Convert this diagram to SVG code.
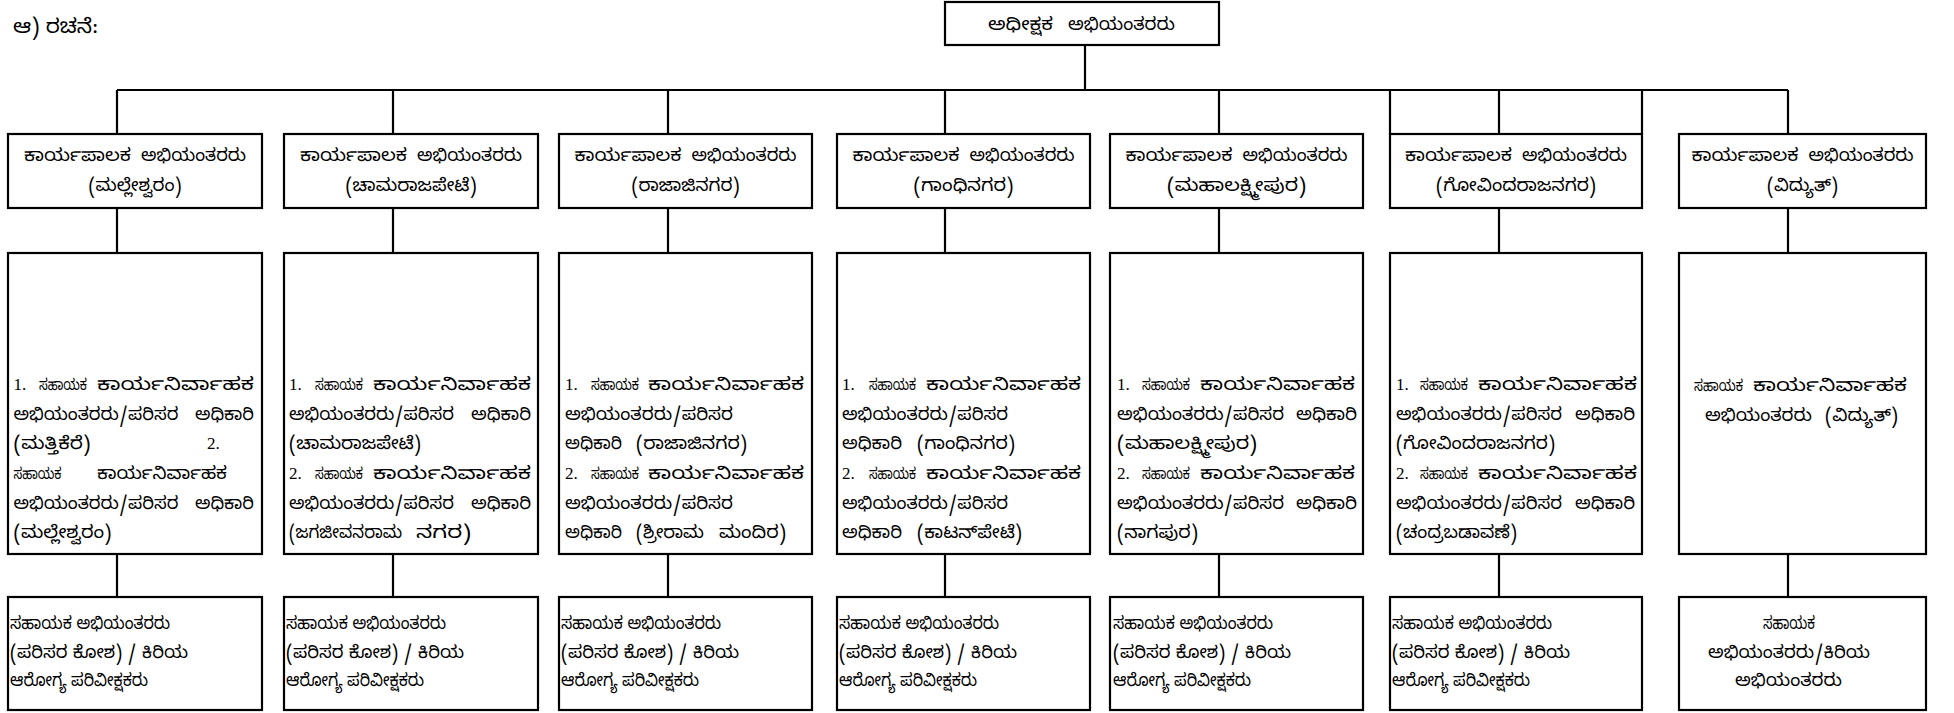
<svg xmlns="http://www.w3.org/2000/svg" width="1954" height="713" viewBox="0 0 1954 713">
<style>
.box{fill:#fff;stroke:#000;stroke-width:2.2}
.ln{stroke:#000;stroke-width:2.2;fill:none}
text{font-family:"Noto Sans Kannada","Noto Serif Kannada","Lohit Kannada","Noto Sans",sans-serif;font-size:17.5px;fill:#000}
text.n{font-family:"Liberation Serif","Times New Roman",serif;font-size:17px}
text.s{font-size:15.5px}
text.hd{font-size:20px}
</style>
<rect width="1954" height="713" fill="#fff"/>
<text class="hd" x="13" y="33" textLength="85" lengthAdjust="spacingAndGlyphs">ಆ) ರಚನೆ:</text>

<g id="connectors">
<path class="ln" d="M1085,45V90M117,90H1788M117,90V134M393,90V134M668,90V134M945,90V134M1219,90V134M1499,90V134M1788,90V134M1390,90V134M1642,90V134"/>
<path class="ln" d="M117,208V253M393,208V253M668,208V253M945,208V253M1219,208V253M1499,208V253M1788,208V253"/>
<path class="ln" d="M117,554V597M393,554V597M668,554V597M945,554V597M1219,554V597M1499,554V597M1788,554V597"/>
</g>

<g id="se">
<rect class="box" x="945" y="2" width="274" height="43"/>
<text x="988" y="30" textLength="65" lengthAdjust="spacingAndGlyphs">ಅಧೀಕ್ಷಕ</text>
<text x="1068" y="30" textLength="107" lengthAdjust="spacingAndGlyphs">ಅಭಿಯಂತರರು</text>
</g>

<g id="ee1"><rect class="box" x="8" y="134" width="254" height="74"/>
<text x="24" y="161" textLength="107" lengthAdjust="spacingAndGlyphs">ಕಾರ್ಯಪಾಲಕ</text><text x="141" y="161" textLength="105" lengthAdjust="spacingAndGlyphs">ಅಭಿಯಂತರರು</text>
<text x="88.5" y="191" textLength="93" lengthAdjust="spacingAndGlyphs">(ಮಲ್ಲೇಶ್ವರಂ)</text></g>
<g id="ee2"><rect class="box" x="284" y="134" width="254" height="74"/>
<text x="300" y="161" textLength="107" lengthAdjust="spacingAndGlyphs">ಕಾರ್ಯಪಾಲಕ</text><text x="417" y="161" textLength="105" lengthAdjust="spacingAndGlyphs">ಅಭಿಯಂತರರು</text>
<text x="345.5" y="191" textLength="131" lengthAdjust="spacingAndGlyphs">(ಚಾಮರಾಜಪೇಟೆ)</text></g>
<g id="ee3"><rect class="box" x="559" y="134" width="253" height="74"/>
<text x="574.5" y="161" textLength="107" lengthAdjust="spacingAndGlyphs">ಕಾರ್ಯಪಾಲಕ</text><text x="691.5" y="161" textLength="105" lengthAdjust="spacingAndGlyphs">ಅಭಿಯಂತರರು</text>
<text x="631.5" y="191" textLength="108" lengthAdjust="spacingAndGlyphs">(ರಾಜಾಜಿನಗರ)</text></g>
<g id="ee4"><rect class="box" x="837" y="134" width="253" height="74"/>
<text x="852.5" y="161" textLength="107" lengthAdjust="spacingAndGlyphs">ಕಾರ್ಯಪಾಲಕ</text><text x="969.5" y="161" textLength="105" lengthAdjust="spacingAndGlyphs">ಅಭಿಯಂತರರು</text>
<text x="913.5" y="191" textLength="100" lengthAdjust="spacingAndGlyphs">(ಗಾಂಧಿನಗರ)</text></g>
<g id="ee5"><rect class="box" x="1110" y="134" width="253" height="74"/>
<text x="1125.5" y="161" textLength="107" lengthAdjust="spacingAndGlyphs">ಕಾರ್ಯಪಾಲಕ</text><text x="1242.5" y="161" textLength="105" lengthAdjust="spacingAndGlyphs">ಅಭಿಯಂತರರು</text>
<text x="1167" y="191" textLength="139" lengthAdjust="spacingAndGlyphs">(ಮಹಾಲಕ್ಷ್ಮೀಪುರ)</text></g>
<g id="ee6"><rect class="box" x="1390" y="134" width="252" height="74"/>
<text x="1405" y="161" textLength="107" lengthAdjust="spacingAndGlyphs">ಕಾರ್ಯಪಾಲಕ</text><text x="1522" y="161" textLength="105" lengthAdjust="spacingAndGlyphs">ಅಭಿಯಂತರರು</text>
<text x="1436" y="191" textLength="160" lengthAdjust="spacingAndGlyphs">(ಗೋವಿಂದರಾಜನಗರ)</text></g>
<g id="ee7"><rect class="box" x="1679" y="134" width="247" height="74"/>
<text x="1691.5" y="161" textLength="107" lengthAdjust="spacingAndGlyphs">ಕಾರ್ಯಪಾಲಕ</text><text x="1808.5" y="161" textLength="105" lengthAdjust="spacingAndGlyphs">ಅಭಿಯಂತರರು</text>
<text x="1767" y="191" textLength="71" lengthAdjust="spacingAndGlyphs">(ವಿದ್ಯುತ್)</text></g>

<g id="aee1"><rect class="box" x="8" y="253" width="254" height="301"/>
<text class="n" x="13.5" y="390">1.</text><text class="s" x="39" y="390" textLength="48" lengthAdjust="spacingAndGlyphs">ಸಹಾಯಕ</text><text x="97" y="390" textLength="157" lengthAdjust="spacingAndGlyphs">ಕಾರ್ಯನಿರ್ವಾಹಕ</text>
<text x="13.5" y="420" textLength="165" lengthAdjust="spacingAndGlyphs">ಅಭಿಯಂತರರು/ಪರಿಸರ</text><text x="195" y="420" textLength="59" lengthAdjust="spacingAndGlyphs">ಅಧಿಕಾರಿ</text>
<text x="13.5" y="449" textLength="77" lengthAdjust="spacingAndGlyphs">(ಮತ್ತಿಕೆರೆ)</text><text class="n" x="207" y="449">2.</text>
<text class="s" x="13.5" y="479" textLength="48" lengthAdjust="spacingAndGlyphs">ಸಹಾಯಕ</text><text x="97" y="479" textLength="130" lengthAdjust="spacingAndGlyphs">ಕಾರ್ಯನಿರ್ವಾಹಕ</text>
<text x="13.5" y="509" textLength="165" lengthAdjust="spacingAndGlyphs">ಅಭಿಯಂತರರು/ಪರಿಸರ</text><text x="195" y="509" textLength="59" lengthAdjust="spacingAndGlyphs">ಅಧಿಕಾರಿ</text>
<text x="13.5" y="538" textLength="98" lengthAdjust="spacingAndGlyphs">(ಮಲ್ಲೇಶ್ವರಂ)</text></g>

<g id="aee2"><rect class="box" x="284" y="253" width="254" height="301"/>
<text class="n" x="289" y="390">1.</text><text class="s" x="315" y="390" textLength="48" lengthAdjust="spacingAndGlyphs">ಸಹಾಯಕ</text><text x="373" y="390" textLength="158" lengthAdjust="spacingAndGlyphs">ಕಾರ್ಯನಿರ್ವಾಹಕ</text>
<text x="289" y="420" textLength="165" lengthAdjust="spacingAndGlyphs">ಅಭಿಯಂತರರು/ಪರಿಸರ</text><text x="471" y="420" textLength="60" lengthAdjust="spacingAndGlyphs">ಅಧಿಕಾರಿ</text>
<text x="289" y="449" textLength="132" lengthAdjust="spacingAndGlyphs">(ಚಾಮರಾಜಪೇಟೆ)</text>
<text class="n" x="289" y="479">2.</text><text class="s" x="315" y="479" textLength="48" lengthAdjust="spacingAndGlyphs">ಸಹಾಯಕ</text><text x="373" y="479" textLength="158" lengthAdjust="spacingAndGlyphs">ಕಾರ್ಯನಿರ್ವಾಹಕ</text>
<text x="289" y="509" textLength="165" lengthAdjust="spacingAndGlyphs">ಅಭಿಯಂತರರು/ಪರಿಸರ</text><text x="471" y="509" textLength="60" lengthAdjust="spacingAndGlyphs">ಅಧಿಕಾರಿ</text>
<text x="289" y="538" textLength="113" lengthAdjust="spacingAndGlyphs">(ಜಗಜೀವನರಾಮ</text><text x="416" y="538" textLength="55" lengthAdjust="spacingAndGlyphs">ನಗರ)</text></g>

<g id="aee3"><rect class="box" x="559" y="253" width="253" height="301"/>
<text class="n" x="565" y="390">1.</text><text class="s" x="591" y="390" textLength="48" lengthAdjust="spacingAndGlyphs">ಸಹಾಯಕ</text><text x="648" y="390" textLength="156" lengthAdjust="spacingAndGlyphs">ಕಾರ್ಯನಿರ್ವಾಹಕ</text>
<text x="565" y="420" textLength="168" lengthAdjust="spacingAndGlyphs">ಅಭಿಯಂತರರು/ಪರಿಸರ</text>
<text x="565" y="449" textLength="57" lengthAdjust="spacingAndGlyphs">ಅಧಿಕಾರಿ</text><text x="636" y="449" textLength="111" lengthAdjust="spacingAndGlyphs">(ರಾಜಾಜಿನಗರ)</text>
<text class="n" x="565" y="479">2.</text><text class="s" x="591" y="479" textLength="48" lengthAdjust="spacingAndGlyphs">ಸಹಾಯಕ</text><text x="648" y="479" textLength="156" lengthAdjust="spacingAndGlyphs">ಕಾರ್ಯನಿರ್ವಾಹಕ</text>
<text x="565" y="509" textLength="168" lengthAdjust="spacingAndGlyphs">ಅಭಿಯಂತರರು/ಪರಿಸರ</text>
<text x="565" y="538" textLength="57" lengthAdjust="spacingAndGlyphs">ಅಧಿಕಾರಿ</text><text x="636" y="538" textLength="68" lengthAdjust="spacingAndGlyphs">(ಶ್ರೀರಾಮ</text><text x="719" y="538" textLength="67" lengthAdjust="spacingAndGlyphs">ಮಂದಿರ)</text></g>

<g id="aee4"><rect class="box" x="837" y="253" width="253" height="301"/>
<text class="n" x="842" y="390">1.</text><text class="s" x="869" y="390" textLength="47" lengthAdjust="spacingAndGlyphs">ಸಹಾಯಕ</text><text x="926" y="390" textLength="155" lengthAdjust="spacingAndGlyphs">ಕಾರ್ಯನಿರ್ವಾಹಕ</text>
<text x="842" y="420" textLength="166" lengthAdjust="spacingAndGlyphs">ಅಭಿಯಂತರರು/ಪರಿಸರ</text>
<text x="842" y="449" textLength="60" lengthAdjust="spacingAndGlyphs">ಅಧಿಕಾರಿ</text><text x="917" y="449" textLength="98" lengthAdjust="spacingAndGlyphs">(ಗಾಂಧಿನಗರ)</text>
<text class="n" x="842" y="479">2.</text><text class="s" x="869" y="479" textLength="47" lengthAdjust="spacingAndGlyphs">ಸಹಾಯಕ</text><text x="926" y="479" textLength="155" lengthAdjust="spacingAndGlyphs">ಕಾರ್ಯನಿರ್ವಾಹಕ</text>
<text x="842" y="509" textLength="166" lengthAdjust="spacingAndGlyphs">ಅಭಿಯಂತರರು/ಪರಿಸರ</text>
<text x="842" y="538" textLength="60" lengthAdjust="spacingAndGlyphs">ಅಧಿಕಾರಿ</text><text x="917" y="538" textLength="105" lengthAdjust="spacingAndGlyphs">(ಕಾಟನ್&#x200C;ಪೇಟೆ)</text></g>

<g id="aee5"><rect class="box" x="1110" y="253" width="253" height="301"/>
<text class="n" x="1117" y="390">1.</text><text class="s" x="1142" y="390" textLength="48" lengthAdjust="spacingAndGlyphs">ಸಹಾಯಕ</text><text x="1200" y="390" textLength="155" lengthAdjust="spacingAndGlyphs">ಕಾರ್ಯನಿರ್ವಾಹಕ</text>
<text x="1117" y="420" textLength="167" lengthAdjust="spacingAndGlyphs">ಅಭಿಯಂತರರು/ಪರಿಸರ</text><text x="1296" y="420" textLength="61" lengthAdjust="spacingAndGlyphs">ಅಧಿಕಾರಿ</text>
<text x="1117" y="449" textLength="140" lengthAdjust="spacingAndGlyphs">(ಮಹಾಲಕ್ಷ್ಮೀಪುರ)</text>
<text class="n" x="1117" y="479">2.</text><text class="s" x="1142" y="479" textLength="48" lengthAdjust="spacingAndGlyphs">ಸಹಾಯಕ</text><text x="1200" y="479" textLength="155" lengthAdjust="spacingAndGlyphs">ಕಾರ್ಯನಿರ್ವಾಹಕ</text>
<text x="1117" y="509" textLength="167" lengthAdjust="spacingAndGlyphs">ಅಭಿಯಂತರರು/ಪರಿಸರ</text><text x="1296" y="509" textLength="61" lengthAdjust="spacingAndGlyphs">ಅಧಿಕಾರಿ</text>
<text x="1117" y="538" textLength="81" lengthAdjust="spacingAndGlyphs">(ನಾಗಪುರ)</text></g>

<g id="aee6"><rect class="box" x="1390" y="253" width="252" height="301"/>
<text class="n" x="1396" y="390">1.</text><text class="s" x="1420" y="390" textLength="48" lengthAdjust="spacingAndGlyphs">ಸಹಾಯಕ</text><text x="1478" y="390" textLength="159" lengthAdjust="spacingAndGlyphs">ಕಾರ್ಯನಿರ್ವಾಹಕ</text>
<text x="1396" y="420" textLength="166" lengthAdjust="spacingAndGlyphs">ಅಭಿಯಂತರರು/ಪರಿಸರ</text><text x="1575" y="420" textLength="60" lengthAdjust="spacingAndGlyphs">ಅಧಿಕಾರಿ</text>
<text x="1396" y="449" textLength="159" lengthAdjust="spacingAndGlyphs">(ಗೋವಿಂದರಾಜನಗರ)</text>
<text class="n" x="1396" y="479">2.</text><text class="s" x="1420" y="479" textLength="48" lengthAdjust="spacingAndGlyphs">ಸಹಾಯಕ</text><text x="1478" y="479" textLength="159" lengthAdjust="spacingAndGlyphs">ಕಾರ್ಯನಿರ್ವಾಹಕ</text>
<text x="1396" y="509" textLength="166" lengthAdjust="spacingAndGlyphs">ಅಭಿಯಂತರರು/ಪರಿಸರ</text><text x="1575" y="509" textLength="60" lengthAdjust="spacingAndGlyphs">ಅಧಿಕಾರಿ</text>
<text x="1396" y="538" textLength="121" lengthAdjust="spacingAndGlyphs">(ಚಂದ್ರಬಡಾವಣೆ)</text></g>

<g id="aee7"><rect class="box" x="1679" y="253" width="247" height="301"/>
<text class="s" x="1694" y="391" textLength="49" lengthAdjust="spacingAndGlyphs">ಸಹಾಯಕ</text><text x="1753" y="391" textLength="154" lengthAdjust="spacingAndGlyphs">ಕಾರ್ಯನಿರ್ವಾಹಕ</text>
<text x="1705" y="421" textLength="107" lengthAdjust="spacingAndGlyphs">ಅಭಿಯಂತರರು</text><text x="1825" y="421" textLength="73" lengthAdjust="spacingAndGlyphs">(ವಿದ್ಯುತ್)</text></g>

<g id="ae1"><rect class="box" x="8" y="597" width="254" height="113"/>
<text x="10" y="629" textLength="160" lengthAdjust="spacingAndGlyphs">ಸಹಾಯಕ ಅಭಿಯಂತರರು</text><text x="10" y="658" textLength="178" lengthAdjust="spacingAndGlyphs">(ಪರಿಸರ ಕೋಶ) / ಕಿರಿಯ</text><text x="10" y="686" textLength="138" lengthAdjust="spacingAndGlyphs">ಆರೋಗ್ಯ ಪರಿವೀಕ್ಷಕರು</text></g>
<g id="ae2"><rect class="box" x="284" y="597" width="254" height="113"/>
<text x="286" y="629" textLength="160" lengthAdjust="spacingAndGlyphs">ಸಹಾಯಕ ಅಭಿಯಂತರರು</text><text x="286" y="658" textLength="178" lengthAdjust="spacingAndGlyphs">(ಪರಿಸರ ಕೋಶ) / ಕಿರಿಯ</text><text x="286" y="686" textLength="138" lengthAdjust="spacingAndGlyphs">ಆರೋಗ್ಯ ಪರಿವೀಕ್ಷಕರು</text></g>
<g id="ae3"><rect class="box" x="559" y="597" width="253" height="113"/>
<text x="561" y="629" textLength="160" lengthAdjust="spacingAndGlyphs">ಸಹಾಯಕ ಅಭಿಯಂತರರು</text><text x="561" y="658" textLength="178" lengthAdjust="spacingAndGlyphs">(ಪರಿಸರ ಕೋಶ) / ಕಿರಿಯ</text><text x="561" y="686" textLength="138" lengthAdjust="spacingAndGlyphs">ಆರೋಗ್ಯ ಪರಿವೀಕ್ಷಕರು</text></g>
<g id="ae4"><rect class="box" x="837" y="597" width="253" height="113"/>
<text x="839" y="629" textLength="160" lengthAdjust="spacingAndGlyphs">ಸಹಾಯಕ ಅಭಿಯಂತರರು</text><text x="839" y="658" textLength="178" lengthAdjust="spacingAndGlyphs">(ಪರಿಸರ ಕೋಶ) / ಕಿರಿಯ</text><text x="839" y="686" textLength="138" lengthAdjust="spacingAndGlyphs">ಆರೋಗ್ಯ ಪರಿವೀಕ್ಷಕರು</text></g>
<g id="ae5"><rect class="box" x="1110" y="597" width="253" height="113"/>
<text x="1113" y="629" textLength="160" lengthAdjust="spacingAndGlyphs">ಸಹಾಯಕ ಅಭಿಯಂತರರು</text><text x="1113" y="658" textLength="178" lengthAdjust="spacingAndGlyphs">(ಪರಿಸರ ಕೋಶ) / ಕಿರಿಯ</text><text x="1113" y="686" textLength="138" lengthAdjust="spacingAndGlyphs">ಆರೋಗ್ಯ ಪರಿವೀಕ್ಷಕರು</text></g>
<g id="ae6"><rect class="box" x="1390" y="597" width="252" height="113"/>
<text x="1392" y="629" textLength="160" lengthAdjust="spacingAndGlyphs">ಸಹಾಯಕ ಅಭಿಯಂತರರು</text><text x="1392" y="658" textLength="178" lengthAdjust="spacingAndGlyphs">(ಪರಿಸರ ಕೋಶ) / ಕಿರಿಯ</text><text x="1392" y="686" textLength="138" lengthAdjust="spacingAndGlyphs">ಆರೋಗ್ಯ ಪರಿವೀಕ್ಷಕರು</text></g>
<g id="ae7"><rect class="box" x="1679" y="597" width="247" height="113"/>
<text x="1763" y="629" textLength="52" lengthAdjust="spacingAndGlyphs">ಸಹಾಯಕ</text><text x="1708" y="658" textLength="162" lengthAdjust="spacingAndGlyphs">ಅಭಿಯಂತರರು/ಕಿರಿಯ</text><text x="1735" y="686" textLength="107" lengthAdjust="spacingAndGlyphs">ಅಭಿಯಂತರರು</text></g>
</svg>
